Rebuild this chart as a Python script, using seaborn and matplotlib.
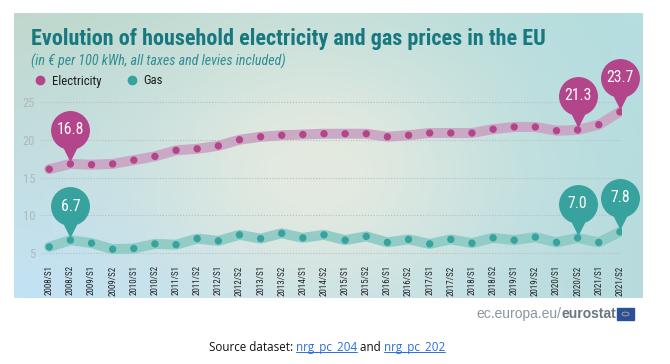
import numpy as np
import pandas as pd
import seaborn as sns
import matplotlib.pyplot as plt
from matplotlib import font_manager
from matplotlib.lines import Line2D
from matplotlib.patches import Rectangle, Circle
from matplotlib.transforms import offset_copy, IdentityTransform

# Half-year periods and prices (EUR per 100 kWh).
periods = ["2008/S1", "2008/S2", "2009/S1", "2009/S2", "2010/S1", "2010/S2",
           "2011/S1", "2011/S2", "2012/S1", "2012/S2", "2013/S1", "2013/S2",
           "2014/S1", "2014/S2", "2015/S1", "2015/S2", "2016/S1", "2016/S2",
           "2017/S1", "2017/S2", "2018/S1", "2018/S2", "2019/S1", "2019/S2",
           "2020/S1", "2020/S2", "2021/S1", "2021/S2"]
electricity = [16.1, 16.8, 16.7, 16.8, 17.3, 17.8, 18.6, 18.8, 19.2, 20.0,
               20.4, 20.6, 20.7, 20.8, 20.8, 20.8, 20.4, 20.6, 20.9, 20.9,
               20.9, 21.4, 21.7, 21.7, 21.2, 21.3, 22.0, 23.7]
gas = [5.8, 6.7, 6.3, 5.5, 5.6, 6.2, 6.1, 6.9, 6.6, 7.4,
       6.9, 7.6, 7.0, 7.4, 6.7, 7.2, 6.4, 6.8, 6.2, 6.8,
       6.3, 7.0, 6.7, 7.1, 6.4, 7.0, 6.4, 7.8]
highlight = [1, 25, 27]  # periods that carry a value bubble
y_ticks = [5, 10, 15, 20, 25]

title = "Evolution of household electricity and gas prices in the EU"
subtitle = "(in \u20ac per 100 kWh, all taxes and levies included)"

elec_dot, gas_dot = "#b3458a", "#38a29e"
band_pal = {"Electricity": "#c9a3c3", "Gas": "#8ccac4"}
dot_pal = {"Electricity": elec_dot, "Gas": gas_dot}

# pick the narrowest sans family that is installed
avail = {f.name for f in font_manager.fontManager.ttflist}
candidates = ["Liberation Sans Narrow", "Roboto Condensed", "DejaVu Sans Condensed",
              "Open Sans Condensed", "Liberation Sans"]
narrow = [f for f in candidates if f in avail][:1] + ["DejaVu Sans"]

sns.set_style("white")
plt.rcParams["font.family"] = narrow

W, H = 670, 364
fig = plt.figure(figsize=(W / 100, H / 100), dpi=100)
rend = fig.canvas.get_renderer()


def box(x0, y0, x1, y1):
    # pixel box measured from the top-left corner -> figure rect
    return [x0 / W, 1 - y1 / H, (x1 - x0) / W, (y1 - y0) / H]


def size_for(s, target_px, **kw):
    # font size that makes string s about target_px wide
    t = fig.text(0, 0, s, fontsize=10, **kw)
    w = t.get_window_extent(rend).width
    t.remove()
    return 10 * target_px / w


# soft gradient panel behind the chart
bg = fig.add_axes(box(14, 13, 643, 298))
yy, xx = np.mgrid[0:1:60j, 0:1:120j]
tl, tr = np.array([192, 216, 204]), np.array([180, 222, 224])
bl, br = np.array([194, 226, 246]), np.array([183, 219, 221])
grad = (((1 - xx) * (1 - yy))[..., None] * tl + (xx * (1 - yy))[..., None] * tr
        + ((1 - xx) * yy)[..., None] * bl + (xx * yy)[..., None] * br)
blob = np.exp(-((xx - 0.48) ** 2 / 0.08 + (yy - 0.55) ** 2 / 0.25))[..., None]
grad = grad * (1 - blob) + np.array([228, 234, 224]) * blob
bg.imshow(grad / 255, aspect="auto", interpolation="bicubic", extent=(0, 1, 0, 1))
bg.axis("off")

# main chart
ax = fig.add_axes(box(40.8, 94.5, 622, 259))
ax.set_facecolor("none")
df = pd.DataFrame({
    "idx": list(range(len(periods))) * 2,
    "value": electricity + gas,
    "series": ["Electricity"] * len(periods) + ["Gas"] * len(periods),
})
sns.lineplot(data=df, x="idx", y="value", hue="series", palette=band_pal,
             lw=7.2, alpha=0.9, legend=False, ax=ax,
             solid_capstyle="round", solid_joinstyle="round")
sns.scatterplot(data=df, x="idx", y="value", hue="series", palette=dot_pal,
                s=28, linewidth=0, legend=False, ax=ax, zorder=3)

tick_size = size_for("2008/S1", 30)
ax.set_xlim(-0.4, 27.1)
ax.set_ylim(4.2, 26)
ax.set_yticks(y_ticks)
ax.set_xticks(range(len(periods)))
ax.set_xticklabels(periods, rotation=90, fontsize=tick_size, color="#222222")
ax.grid(axis="y", color="#b5bebe", ls=(0, (1, 1.6)), lw=0.8)
ax.grid(axis="x", visible=False)
ax.set_axisbelow(True)
ax.tick_params(axis="x", length=2.5, width=2.2, color="#222222", pad=2)
ax.tick_params(axis="y", length=0, labelsize=9, labelcolor="#b0b9b9", pad=4)
ax.set_xlabel("")
ax.set_ylabel("")
sns.despine(ax=ax, left=True, bottom=True)

# value bubbles
bubble_size = size_for("16.8", 27)
up = offset_copy(ax.transData, fig=fig, y=34, units="dots")
tip = offset_copy(ax.transData, fig=fig, y=10, units="dots")
for series, color in ((electricity, elec_dot), (gas, gas_dot)):
    for i in highlight:
        v = series[i]
        ax.plot(i, v, marker="o", ms=27, color=color, transform=up, clip_on=False, zorder=5)
        ax.plot(i, v, marker="v", ms=9, color=color, transform=tip, clip_on=False, zorder=5)
        ax.text(i, v, f"{v:.1f}", transform=up, ha="center", va="center",
                color="white", fontsize=bubble_size, zorder=6)

# titles and legend
fig.text(31 / W, 1 - 45 / H, title, fontsize=size_for(title, 516, weight="bold"),
         weight="bold", color="#17787f", va="baseline")
fig.text(31 / W, 1 - 66 / H, subtitle, fontsize=size_for(subtitle, 254, style="italic"),
         style="italic", color="#2f8c93", va="baseline")
leg_size = size_for("Electricity", 49)
handles = [Line2D([], [], marker="o", ls="", color=elec_dot, ms=6),
           Line2D([], [], marker="o", ls="", color=gas_dot, ms=6)]
fig.legend(handles, ["Electricity", "Gas"], loc="center left",
           bbox_to_anchor=(29 / W, 1 - 81 / H), ncol=2, frameon=False,
           fontsize=leg_size, handletextpad=0.5, columnspacing=2.0,
           borderpad=0, handlelength=0.8, labelcolor="#1d1d1d")

# eurostat credit
sans = ["Liberation Sans", "DejaVu Sans"]
brand = fig.text(616 / W, 1 - 314 / H, "eurostat", ha="right", va="center",
                 fontsize=10, weight="bold", color="#6b7680", family=sans)
fig.add_artist(plt.Annotation("ec.europa.eu/", xy=(0, 0), xycoords=brand,
                              ha="right", va="bottom", fontsize=10, color="#8a96a0",
                              family=sans))
fig.add_artist(Rectangle((617 / W, 1 - 320 / H), 17 / W, 12 / H,
                         transform=fig.transFigure, color="#2b4f9e"))
fig.add_artist(Circle((625.5 / W, 1 - 314 / H), 3.5 / W, transform=fig.transFigure,
                      fill=False, ec="#b9b46a", lw=0.6))

# source line
src_font = dict(fontsize=8.4, family=["Open Sans", "DejaVu Sans"], va="bottom")
t0 = fig.text(209 / W, 1 - 354 / H, "Source dataset: ", color="#111111", **src_font)
t1 = fig.add_artist(plt.Annotation("nrg_pc_204", xy=(1, 0), xycoords=t0,
                                   color="#2a6fdb", **src_font))
t2 = fig.add_artist(plt.Annotation(" and ", xy=(1, 0), xycoords=t1,
                                   color="#111111", **src_font))
t3 = fig.add_artist(plt.Annotation("nrg_pc_202", xy=(1, 0), xycoords=t2,
                                   color="#2a6fdb", **src_font))

fig.canvas.draw()
for t in (t1, t3):
    bb = t.get_window_extent()
    fig.add_artist(Line2D([bb.x0, bb.x1], [bb.y0 + 2, bb.y0 + 2],
                          transform=IdentityTransform(), color="#2a6fdb", lw=0.7))

fig.savefig("out.png", dpi=100)
